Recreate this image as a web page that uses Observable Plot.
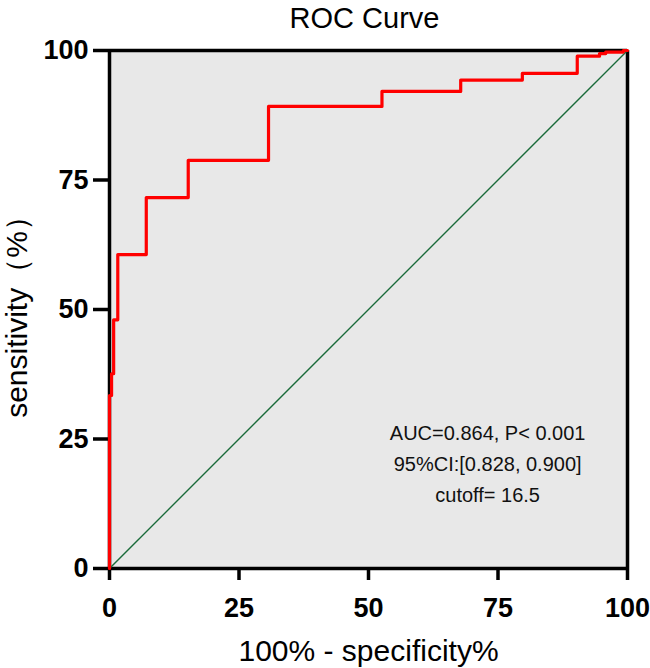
<!DOCTYPE html>
<html>
<head>
<meta charset="utf-8">
<script src="https://cdn.jsdelivr.net/npm/d3@7"></script>
<script src="https://cdn.jsdelivr.net/npm/@observablehq/plot@0.6"></script>
<style>
  body { margin: 0; background: #fff; }
  #chart svg { display: block; }
</style>
</head>
<body>
<div id="chart"></div>
<script>
// ROC step points: at each fpr value the sensitivity rises to tpr value
const fprSteps = [0, 0, 0.4, 0.8, 1.6, 7.1, 15.2, 30.7, 52.6, 67.8, 79.7, 90.3, 94.6, 95.8, 99.2, 100];
const tprSteps = [0, 33.4, 37.6, 48.0, 60.6, 71.6, 78.8, 89.2, 92.1, 94.3, 95.6, 98.9, 99.4, 99.7, 100, 100];
const refLineX = [0, 100];
const refLineY = [0, 100];
const axisTicks = [0, 25, 50, 75, 100];
const titleText = "ROC Curve";
const xLabel = "100% - specificity%";
const yLabel = "sensitivity（%）";
const annotations = ["AUC=0.864, P< 0.001", "95%CI:[0.828, 0.900]", "cutoff= 16.5"];
const annotationY = [26, 20, 14];

const roc = fprSteps.map((x, i) => ({x, y: tprSteps[i]}));
const ref = refLineX.map((x, i) => ({x, y: refLineY[i]}));
const notes = annotations.map((t, i) => ({t, x: 73, y: annotationY[i]}));

const font = "'Liberation Sans', Arial, Helvetica, sans-serif";

const chart = Plot.plot({
  width: 650,
  height: 668,
  marginLeft: 109,
  marginRight: 23,
  marginTop: 50,
  marginBottom: 100,
  style: {fontFamily: font, background: "#fff", color: "#000"},
  x: {domain: [0, 100]},
  y: {domain: [0, 100]},
  marks: [
    Plot.frame({fill: "#e8e8e8", stroke: null}),
    Plot.text(notes, {x: "x", y: "y", text: "t", fontSize: 20, fill: "#111", textAnchor: "middle"}),
    Plot.ruleY([100], {stroke: "#000", strokeWidth: 3.5}),
    Plot.ruleX([100], {stroke: "#000", strokeWidth: 3.5}),
    Plot.ruleY([0], {stroke: "#000", strokeWidth: 3.5}),
    Plot.ruleX([0], {stroke: "#000", strokeWidth: 3.5}),
    Plot.axisY({ticks: axisTicks, tickSize: 16, strokeWidth: 3.5, tickPadding: 5, fontSize: 27, fontWeight: "bold", label: null, tickFormat: d => d}),
    Plot.axisX({ticks: axisTicks, tickSize: 12, strokeWidth: 3.5, tickPadding: 17, fontSize: 27, fontWeight: "bold", label: null, tickFormat: d => d}),
    Plot.line(ref, {x: "x", y: "y", stroke: "#1a6b3a", strokeWidth: 1.4}),
    Plot.line(roc, {x: "x", y: "y", curve: "step-after", stroke: "#ff0000", strokeWidth: 3.2}),
    Plot.text([titleText], {frameAnchor: "top", lineAnchor: "middle", dx: -4, dy: -32, fontSize: 29, fill: "#000"}),
    Plot.text([xLabel], {frameAnchor: "bottom", lineAnchor: "middle", dy: 83, fontSize: 30, fill: "#000"}),
    Plot.text([yLabel], {frameAnchor: "left", textAnchor: "middle", lineAnchor: "middle", dx: -92, rotate: -90, fontSize: 30, fill: "#000"})
  ]
});
document.getElementById("chart").append(chart);
</script>
</body>
</html>
